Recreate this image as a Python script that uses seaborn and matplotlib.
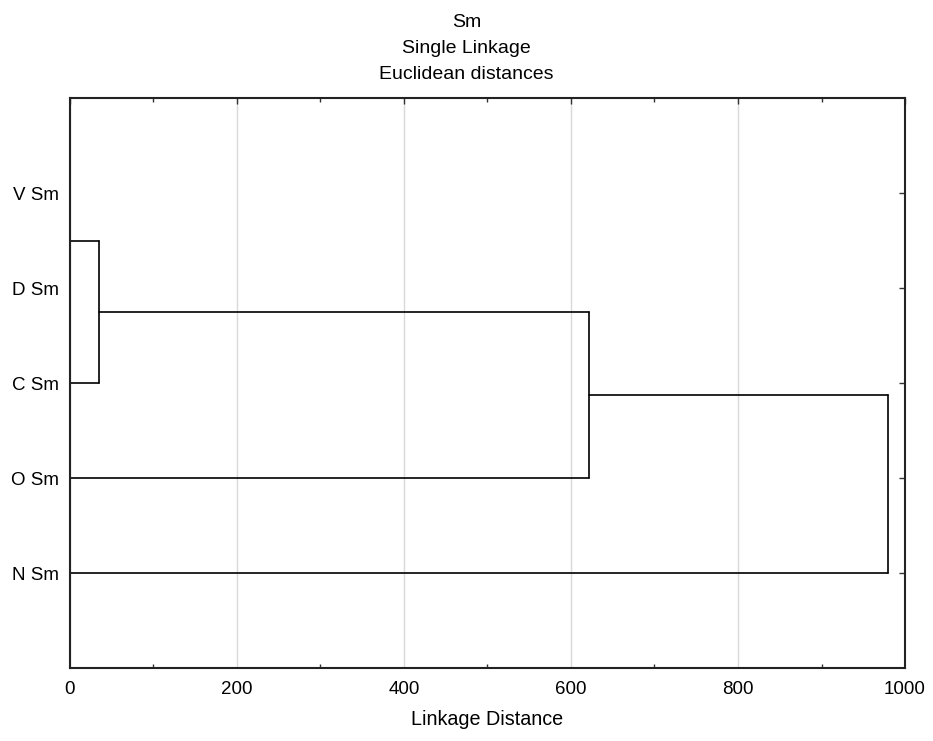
import numpy as np
import pandas as pd
import matplotlib
matplotlib.use("Agg")
import matplotlib.pyplot as plt
import seaborn as sns
from matplotlib.ticker import MultipleLocator

# Leaves, top to bottom, and the single-linkage merges
leaves = ["V Sm", "D Sm", "C Sm", "O Sm", "N Sm"]
merge_left = ["V Sm", "VD", "VDC", "VDCO"]
merge_right = ["D Sm", "C Sm", "O Sm", "N Sm"]
merge_name = ["VD", "VDC", "VDCO", "VDCON"]
merge_height = [0, 35, 622, 980]

# Build the dendrogram segments
ypos = {lab: len(leaves) - i for i, lab in enumerate(leaves)}
hpos = {lab: 0.0 for lab in leaves}
rows = []
seg = 0
for a, b, name, h in zip(merge_left, merge_right, merge_name, merge_height):
    ya, yb = ypos[a], ypos[b]
    for xs, ys in [([hpos[a], h], [ya, ya]), ([h, h], [ya, yb]), ([hpos[b], h], [yb, yb])]:
        for x, y in zip(xs, ys):
            rows.append({"x": x, "y": y, "seg": seg})
        seg += 1
    ypos[name] = (ya + yb) / 2
    hpos[name] = h
df = pd.DataFrame(rows)

sns.set_style("white")
plt.rcParams["font.family"] = ["Liberation Sans", "DejaVu Sans"]
plt.rcParams["text.color"] = "black"
plt.rcParams["axes.labelcolor"] = "black"
plt.rcParams["xtick.labelcolor"] = "black"
plt.rcParams["ytick.labelcolor"] = "black"

fig = plt.figure(figsize=(9.33, 7.41), dpi=100)
ax = fig.add_axes([0.075, 0.0985, 0.895, 0.769])

sns.lineplot(data=df, x="x", y="y", units="seg", estimator=None, sort=False,
             color="black", linewidth=1.2, ax=ax, legend=False)

ax.set_xlim(0, 1000)
ax.set_ylim(0, len(leaves) + 1)
ax.xaxis.set_major_locator(MultipleLocator(200))
ax.xaxis.set_minor_locator(MultipleLocator(100))
ax.set_yticks([len(leaves) - i for i in range(len(leaves))])
ax.set_yticklabels(leaves)
ax.grid(axis="x", which="major", color="#d9d9d9", linewidth=1)
ax.set_axisbelow(True)

ax.tick_params(axis="both", which="major", direction="in", length=4, width=1,
               top=True, right=True, labelsize=13.5, color="#333333")
ax.tick_params(axis="x", which="minor", direction="in", length=3, width=1,
               top=True, bottom=True, color="#333333")
ax.tick_params(axis="x", which="major", pad=9)
ax.tick_params(axis="y", which="major", pad=8)
for s in ax.spines.values():
    s.set_color("#222222")
    s.set_linewidth(1.5)

ax.set_xlabel("Linkage Distance", fontsize=14.2, labelpad=9)
ax.set_ylabel("")

fig.text(0.5, 1 - 14 / 741, "Sm\nSingle Linkage\nEuclidean distances", ha="center", va="top",
         fontsize=14, linespacing=1.7)

fig.savefig("out.png", dpi=100)
